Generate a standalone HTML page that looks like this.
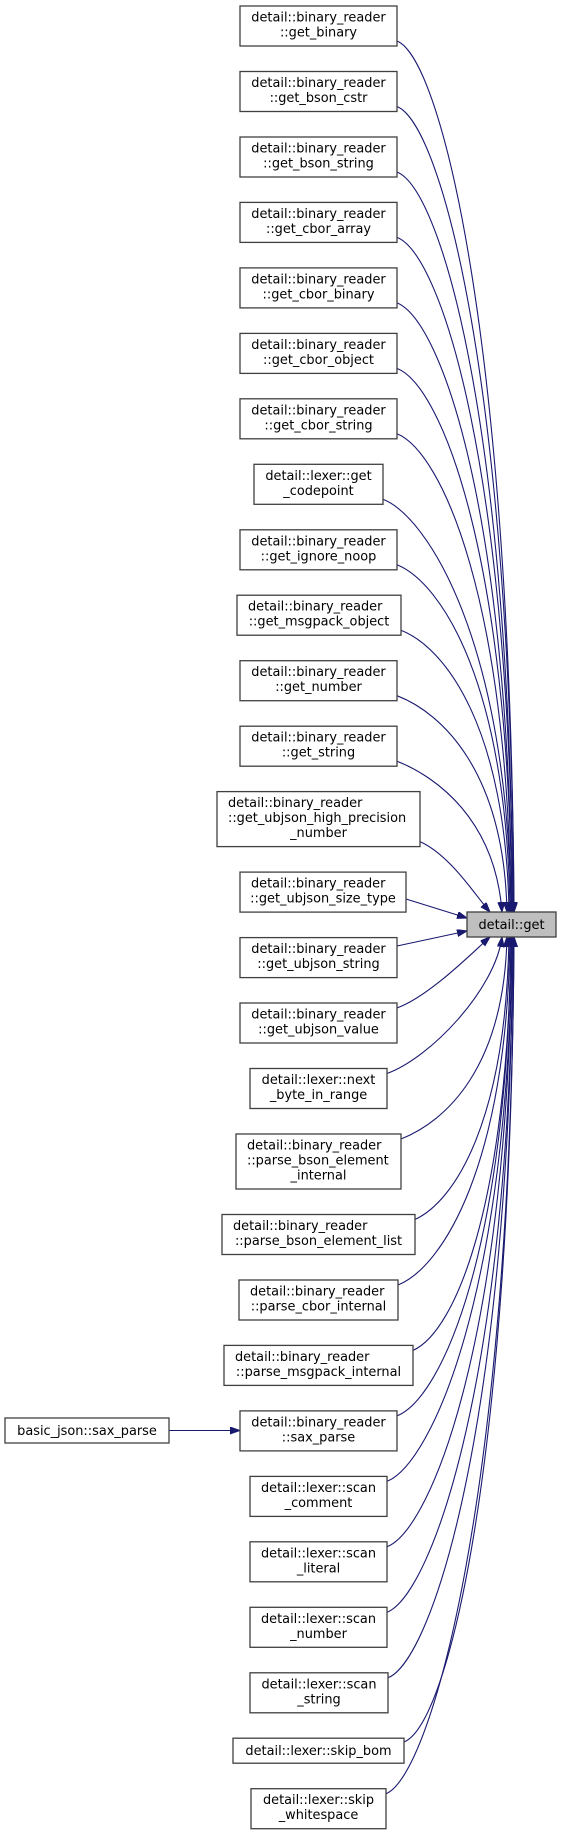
<!DOCTYPE html>
<html><head><meta charset="utf-8"><style>
html,body{margin:0;padding:0;background:#fff;}
svg{display:block;}
text{font-family:"DejaVu Sans","Liberation Sans",sans-serif;font-size:12.9px;fill:#000;}
.b{fill:#fff;stroke:#404040;stroke-width:1.3;}
.e{fill:none;stroke:#191970;stroke-width:1.1;}
</style></head><body>
<svg width="561" height="1835" viewBox="0 0 561 1835" xmlns="http://www.w3.org/2000/svg">
<defs><marker id="a" markerWidth="11" markerHeight="8" refX="10" refY="3.5" orient="auto" markerUnits="userSpaceOnUse"><path d="M0,0 L10,3.5 L0,7z" fill="#191970" stroke="#191970" stroke-width="1"/></marker></defs>

<g class="e" marker-end="url(#a)">
<path d="M397,41 C442,59 511,346 514,912"/>
<path d="M397,106.5 C442,124.5 511,388 514,912"/>
<path d="M397,172 C442,190 510,431 513,912"/>
<path d="M397,237.4 C442,255 510,473.5 513,912"/>
<path d="M397,302.9 C442,321 509,516 512,912"/>
<path d="M397,368.4 C442,386 509,558.7 512,912"/>
<path d="M397,433.8 C442,452 508,601 511,912"/>
<path d="M383,499.3 C428,517 508,643.7 511,912"/>
<path d="M397,564.8 C442,583 507,686 510,912"/>
<path d="M401,630.2 C446,648 506,728.8 509,912"/>
<path d="M397,695.7 C442,713 504,771.4 507,912"/>
<path d="M397,761.2 C437,777 495,820 502,912"/>
<path d="M420,841.6 C450,855 475,895 490,912"/>
<path d="M406,899 L467,918"/>
<path d="M397,946 L467,931"/>
<path d="M397,1008 C430,996 475,950 490,937"/>
<path d="M387,1073.5 C430,1058 495,990 502,937"/>
<path d="M401,1139 C446,1121 504,1068 507,937"/>
<path d="M415,1219.5 C455,1201 506,1120.6 509,937"/>
<path d="M398,1285 C443,1267 507,1163 510,937"/>
<path d="M413,1350.4 C455,1332 508,1205.7 511,937"/>
<path d="M397,1415.9 C442,1398 508,1248.3 511,937"/>
<path d="M387,1481.4 C432,1463 509,1290.9 512,937"/>
<path d="M387,1546.8 C432,1529 509,1333.4 512,937"/>
<path d="M387,1612.3 C432,1594 510,1376 513,937"/>
<path d="M388,1677.8 C433,1660 510,1418.5 513,937"/>
<path d="M404,1742 C449,1724 511,1460.3 514,937"/>
<path d="M386,1793.7 C431,1776 511,1493.9 514,937"/>
<path d="M169,1430.5 L240,1430.5"/>
</g>

<rect x="467" y="912" width="89" height="25" fill="#bfbfbf" stroke="#404040" stroke-width="1.3"/>
<text x="511.5" y="929" text-anchor="middle">detail::get</text>

<g text-anchor="middle">
<rect class="b" x="240" y="6" width="157" height="40"/><text x="318.5" y="21.5">detail::binary_reader</text><text x="318.5" y="36.5">::get_binary</text>
<rect class="b" x="240" y="71.5" width="157" height="40"/><text x="318.5" y="87">detail::binary_reader</text><text x="318.5" y="102">::get_bson_cstr</text>
<rect class="b" x="240" y="137" width="157" height="40"/><text x="318.5" y="152.5">detail::binary_reader</text><text x="318.5" y="167.5">::get_bson_string</text>
<rect class="b" x="240" y="202.4" width="157" height="40"/><text x="318.5" y="217.9">detail::binary_reader</text><text x="318.5" y="232.9">::get_cbor_array</text>
<rect class="b" x="240" y="267.9" width="157" height="40"/><text x="318.5" y="283.4">detail::binary_reader</text><text x="318.5" y="298.4">::get_cbor_binary</text>
<rect class="b" x="240" y="333.4" width="157" height="40"/><text x="318.5" y="348.9">detail::binary_reader</text><text x="318.5" y="363.9">::get_cbor_object</text>
<rect class="b" x="240" y="398.8" width="157" height="40"/><text x="318.5" y="414.3">detail::binary_reader</text><text x="318.5" y="429.3">::get_cbor_string</text>
<rect class="b" x="254" y="464.3" width="129" height="40"/><text x="318.5" y="479.8">detail::lexer::get</text><text x="318.5" y="494.8">_codepoint</text>
<rect class="b" x="240" y="529.8" width="157" height="40"/><text x="318.5" y="545.3">detail::binary_reader</text><text x="318.5" y="560.3">::get_ignore_noop</text>
<rect class="b" x="237" y="595.2" width="164" height="40"/><text x="248" y="610.7" text-anchor="start">detail::binary_reader</text><text x="319" y="625.7">::get_msgpack_object</text>
<rect class="b" x="240" y="660.7" width="157" height="40"/><text x="318.5" y="676.2">detail::binary_reader</text><text x="318.5" y="691.2">::get_number</text>
<rect class="b" x="240" y="726.2" width="157" height="40"/><text x="318.5" y="741.7">detail::binary_reader</text><text x="318.5" y="756.7">::get_string</text>
<rect class="b" x="217" y="791.6" width="203" height="55"/><text x="228" y="807.1" text-anchor="start">detail::binary_reader</text><text x="228" y="822.1" text-anchor="start">::get_ubjson_high_precision</text><text x="318.5" y="837.1">_number</text>
<rect class="b" x="240" y="872.1" width="166" height="40"/><text x="251" y="887.6" text-anchor="start">detail::binary_reader</text><text x="323" y="902.6">::get_ubjson_size_type</text>
<rect class="b" x="240" y="937.6" width="157" height="40"/><text x="318.5" y="953.1">detail::binary_reader</text><text x="318.5" y="968.1">::get_ubjson_string</text>
<rect class="b" x="240" y="1003" width="157" height="40"/><text x="318.5" y="1018.5">detail::binary_reader</text><text x="318.5" y="1033.5">::get_ubjson_value</text>
<rect class="b" x="250" y="1068.5" width="137" height="40"/><text x="318.5" y="1084">detail::lexer::next</text><text x="318.5" y="1099">_byte_in_range</text>
<rect class="b" x="236" y="1134" width="165" height="55"/><text x="247" y="1149.5" text-anchor="start">detail::binary_reader</text><text x="247" y="1164.5" text-anchor="start">::parse_bson_element</text><text x="318.5" y="1179.5">_internal</text>
<rect class="b" x="222" y="1214.5" width="193" height="40"/><text x="233" y="1230" text-anchor="start">detail::binary_reader</text><text x="318.5" y="1245">::parse_bson_element_list</text>
<rect class="b" x="239" y="1280" width="159" height="40"/><text x="250" y="1295.5" text-anchor="start">detail::binary_reader</text><text x="318.5" y="1310.5">::parse_cbor_internal</text>
<rect class="b" x="224" y="1345.4" width="189" height="40"/><text x="235" y="1360.9" text-anchor="start">detail::binary_reader</text><text x="318.5" y="1375.9">::parse_msgpack_internal</text>
<rect class="b" x="240" y="1410.9" width="157" height="40"/><text x="318.5" y="1426.4">detail::binary_reader</text><text x="318.5" y="1441.4">::sax_parse</text>
<rect class="b" x="250" y="1476.4" width="137" height="40"/><text x="318.5" y="1491.9">detail::lexer::scan</text><text x="318.5" y="1506.9">_comment</text>
<rect class="b" x="250" y="1541.8" width="137" height="40"/><text x="318.5" y="1557.3">detail::lexer::scan</text><text x="318.5" y="1572.3">_literal</text>
<rect class="b" x="250" y="1607.3" width="137" height="40"/><text x="318.5" y="1622.8">detail::lexer::scan</text><text x="318.5" y="1637.8">_number</text>
<rect class="b" x="250" y="1672.8" width="138" height="40"/><text x="319" y="1688.3">detail::lexer::scan</text><text x="319" y="1703.3">_string</text>
<rect class="b" x="233" y="1738.2" width="171" height="25"/><text x="318.5" y="1755.2">detail::lexer::skip_bom</text>
<rect class="b" x="251" y="1788.7" width="135" height="40"/><text x="318.5" y="1804.2">detail::lexer::skip</text><text x="318.5" y="1819.2">_whitespace</text>
<rect class="b" x="5" y="1418" width="164" height="25"/><text x="87" y="1435">basic_json::sax_parse</text>
</g>
</svg>
</body></html>
